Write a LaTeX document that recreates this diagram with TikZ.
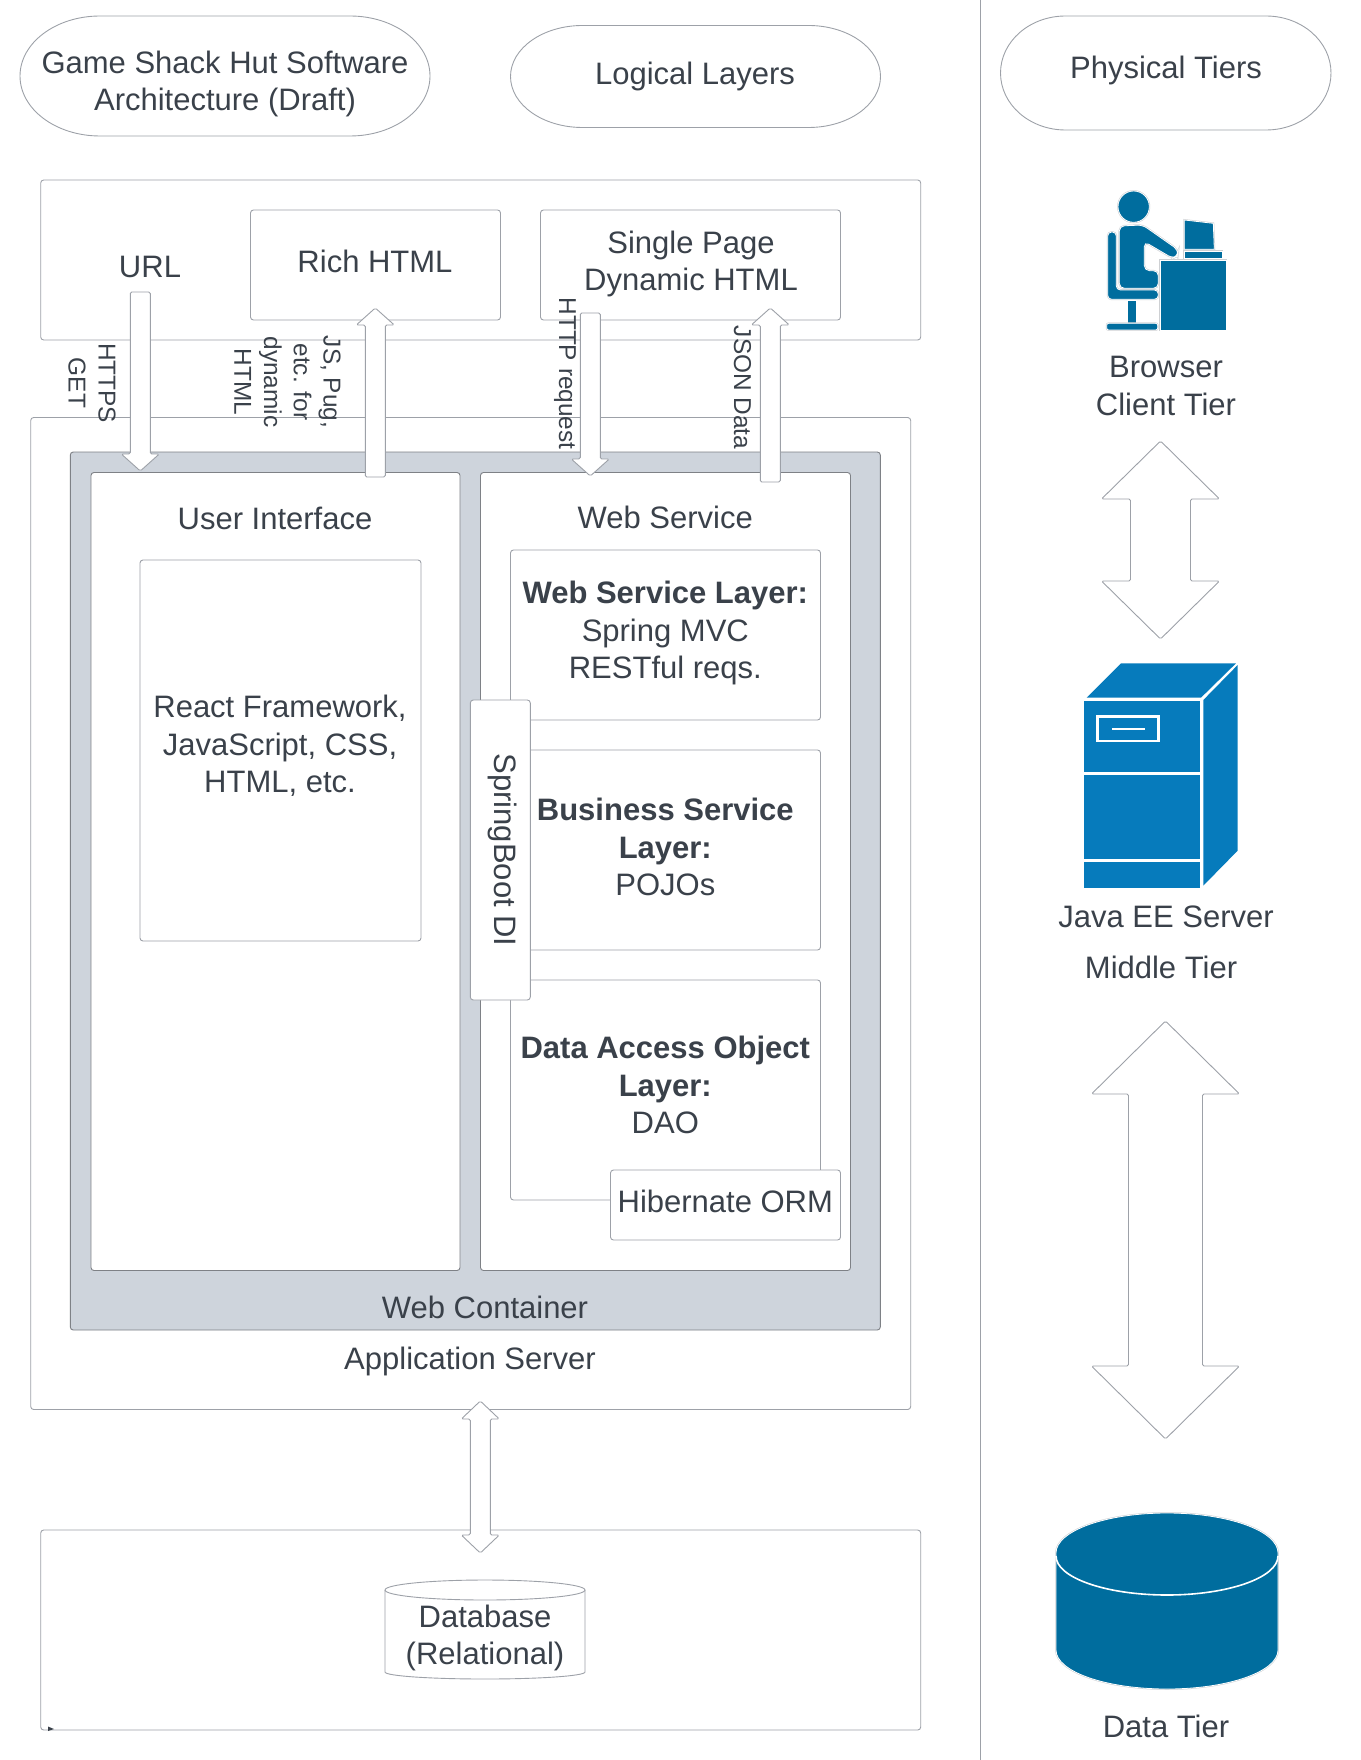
\documentclass[tikz,border=0pt]{standalone}
\usepackage{fontspec}
\setmainfont{Liberation Sans}
\usepackage{xcolor}
\usetikzlibrary{calc}

\definecolor{inkText}{HTML}{3A414A}
\definecolor{edgeGrey}{HTML}{9DA1A8}
\definecolor{containerGrey}{HTML}{CED4DC}
\definecolor{iconDark}{HTML}{006D9E}
\definecolor{iconBlue}{HTML}{067BBC}

\tikzset{
	boxed/.style={draw=edgeGrey,line width=0.9pt,fill=white,rounded corners=3pt,inner sep=0pt,outer sep=0pt},
	oval/.style n args={2}{draw=edgeGrey,line width=0.9pt,to path={
		let \p1=(\tikztostart),\p2=(\tikztotarget) in
		(\x1+#1,\y1) -- (\x2-#1,\y1) arc[start angle=90,end angle=0,x radius=#1,y radius=#2]
		-- (\x2,\y2+#2) arc[start angle=0,end angle=-90,x radius=#1,y radius=#2]
		-- (\x1+#1,\y2) arc[start angle=-90,end angle=-180,x radius=#1,y radius=#2]
		-- (\x1,\y1-#2) arc[start angle=180,end angle=90,x radius=#1,y radius=#2] -- cycle}},
	txt/.style={text=inkText,align=center,inner sep=0pt,font=\fontsize{31}{37.4}\selectfont},
	sidetxt/.style={text=inkText,align=center,inner sep=0pt,rotate=-90,font=\fontsize{24.4}{29.8}\selectfont},
	blockline/.style={draw=edgeGrey,line width=0.9pt,fill=white,rounded corners=1.5pt},
	blockhead/.style n args={3}{blockline,to path={
		let \p1=(\tikztostart),\p2=(\tikztotarget),\n1={(\y2>\y1?1:-1)*#3} in
		(\x1-#1,\y1) -- (\x1-#1,\y2-\n1) -- (\x1-#2,\y2-\n1) -- (\x2,\y2) -- (\x1+#2,\y2-\n1) -- (\x1+#1,\y2-\n1) -- (\x1+#1,\y1) -- cycle}},
	blockboth/.style n args={3}{blockline,to path={
		let \p1=(\tikztostart),\p2=(\tikztotarget),\n1={(\y2>\y1?1:-1)*#3} in
		(\x1,\y1) -- (\x1-#2,\y1+\n1) -- (\x1-#1,\y1+\n1) -- (\x1-#1,\y2-\n1) -- (\x1-#2,\y2-\n1) -- (\x2,\y2) -- (\x1+#2,\y2-\n1) -- (\x1+#1,\y2-\n1) -- (\x1+#1,\y1+\n1) -- (\x1+#2,\y1+\n1) -- cycle}},
	iconpart/.style={fill=iconDark,draw=white,line width=0.8pt,preaction={draw=edgeGrey!50,line width=1.8pt}},
}

\begin{document}
\begin{tikzpicture}[x=1pt,y=-1pt]
	\useasboundingbox (0,0) rectangle (1360,1760);

	\draw[edgeGrey,line width=0.9pt] (980,0) -- (980,1760);

	% headings
	\draw[oval={80pt}{60pt}] (20,16) to (430,136);
	\node[txt] (gameText) at (225,84) {Game Shack Hut Software\\Architecture (Draft)};
	\draw[oval={72pt}{51pt}] (510.5,25.5) to (880.5,127.5);
	\node[txt] (logicalText) at (695,76) {Logical Layers};
	\draw[oval={65pt}{57pt}] (1000.5,16) to (1331,130);
	\node[txt] (physicalText) at (1166,70) {Physical Tiers};

	% client
	\node[boxed,minimum width=880pt,minimum height=160pt] (clientBox) at (480.7,260) {};
	\node[txt] (urlText) at (150,267) {URL};
	\node[boxed,minimum width=250pt,minimum height=110pt] (richBox) at (375.5,265) {};
	\node[txt] (richText) at (375,261) {Rich HTML};
	\node[boxed,minimum width=300pt,minimum height=110pt] (singleBox) at (690.5,265) {};
	\node[txt] (singleText) at (691,264) {Single Page\\Dynamic HTML};

	% application server
	\node[boxed,minimum width=880pt,minimum height=992pt] (appBox) at (470.7,913.5) {};
	\node[boxed,draw=edgeGrey!80!black,fill=containerGrey,minimum width=810pt,minimum height=878pt] (containerBox) at (475.3,891) {};
	\node[boxed,draw=edgeGrey!80!black,minimum width=369pt,minimum height=798pt] (uiBox) at (275.5,871.5) {};
	\node[boxed,draw=edgeGrey!80!black,minimum width=370pt,minimum height=798pt] (webBox) at (665.5,871.5) {};
	\node[txt] (uiText) at (275,518) {User Interface};
	\node[txt] (webText) at (665.3,517) {Web Service};
	\node[boxed,minimum width=281pt,minimum height=381pt] (reactBox) at (280.5,750.5) {};
	\node[txt] (reactText) at (280,746) {React Framework,\\JavaScript, CSS,\\HTML, etc.};
	\node[boxed,minimum width=310pt,minimum height=170pt] (wslBox) at (665.5,635) {};
	\node[txt] (wslText) at (665.3,633) {\textbf{Web Service Layer:}\\Spring MVC\\RESTful reqs.};
	\node[boxed,minimum width=310pt,minimum height=200pt] (bslBox) at (665.5,850) {};
	\node[txt] (bslText) at (665.3,847) {\textbf{Business Service}\\\textbf{Layer:}\\POJOs};
	\node[boxed,minimum width=310pt,minimum height=220pt] (daoBox) at (665.5,1090) {};
	\node[txt] (daoText) at (665.3,1085) {\textbf{Data Access Object}\\\textbf{Layer:}\\DAO};
	\node[boxed,minimum width=230pt,minimum height=70pt] (ormBox) at (725.5,1205) {};
	\node[txt] (ormText) at (725.3,1201) {Hibernate ORM};
	\node[boxed,minimum width=60pt,minimum height=300pt] (diBox) at (500.3,850) {};
	\node[txt,rotate=-90] (diText) at (503,850) {SpringBoot DI};
	\node[txt] (containerText) at (485,1307) {Web Container};
	\node[txt] (appText) at (470,1361) {Application Server};

	% database
	\node[boxed,minimum width=880pt,minimum height=200pt] (dbBox) at (480.7,1630) {};
	\fill[inkText] (48,1726.5) -- (54,1729) -- (48,1731) -- cycle;
	\draw[edgeGrey,line width=0.9pt,fill=white] (385,1590) arc[start angle=180,end angle=0,x radius=100,y radius=-10] -- (585,1672) arc[start angle=0,end angle=-180,x radius=100,y radius=-7] -- cycle;
	\draw[edgeGrey,line width=0.9pt] (385,1590) arc[start angle=180,end angle=360,x radius=100,y radius=-10];
	\node[txt] (dbText) at (485,1638) {Database\\(Relational)};

	% arrows between the boxes
	\coordinate (getTop) at (140.3,292);
	\coordinate (getTip) at (140.3,471);
	\coordinate (richFoot) at (375.3,477);
	\coordinate (richTip) at (375.3,308);
	\coordinate (reqTop) at (590.3,313);
	\coordinate (reqTip) at (590.3,476);
	\coordinate (jsonFoot) at (770.3,482);
	\coordinate (jsonTip) at (770.3,308);
	\coordinate (appEnd) at (480.3,1401);
	\coordinate (dbEnd) at (480.3,1553);
	\draw[blockhead={10pt}{19pt}{17pt}] (getTop) to (getTip);
	\draw[blockhead={10pt}{19pt}{17pt}] (richFoot) to (richTip);
	\draw[blockhead={10pt}{19pt}{17pt}] (reqTop) to (reqTip);
	\draw[blockhead={10pt}{19pt}{17pt}] (jsonFoot) to (jsonTip);
	\draw[blockboth={10pt}{19pt}{18pt}] (appEnd) to (dbEnd);

	\node[sidetxt] (getText) at (92,383) {HTTPS\\GET};
	\node[sidetxt] (jsText) at (287.5,382) {JS, Pug,\\etc. for\\dynamic\\HTML};
	\node[sidetxt] (reqText) at (565,373.5) {HTTP request};
	\node[sidetxt] (jsonText) at (742.5,387.5) {JSON Data};

	% physical tiers
	\begin{scope}[shift={(1041,170)},x=0.3333pt,y=-0.3333pt]
		\draw[iconpart,rounded corners=4pt] (200,186) -- (226,186) -- (226,360) -- (352,360) -- (352,388) -- (200,388) -- cycle;
		\draw[iconpart] (260,392) rectangle (285,460);
		\draw[iconpart,rounded corners=2pt] (197,460) rectangle (350,480);
		\draw[iconpart] (278,110) circle[radius=47];
		\draw[iconpart,rounded corners=5pt] (235,168) -- (305,165) -- (412,240) -- (410,258) -- (395,265) -- (310,215) -- (310,302) -- (352,302) -- (352,355) -- (235,355) -- cycle;
		\draw[iconpart] (357,270) rectangle (556,480);
		\draw[iconpart] (430,150) -- (517,160) -- (520,238) -- (430,238) -- cycle;
		\draw[iconpart] (430,243) rectangle (544,265);
	\end{scope}
	\node[txt] (browserText) at (1166,386) {Browser\\Client Tier};

	\coordinate (clientEnd) at (1160.5,441);
	\coordinate (middleEnd) at (1160.5,639);
	\draw[blockboth={30pt}{59pt}{58pt}] (clientEnd) to (middleEnd);

	\begin{scope}[shift={(1041,640)},x=0.3333pt,y=-0.3333pt]
		\fill[iconBlue] (130,183) rectangle (478,745);
		\fill[iconBlue] (137,173) -- (240,70) -- (585,70) -- (480,173) -- cycle;
		\fill[iconBlue] (487,180) -- (590,75) -- (590,632) -- (487,737) -- cycle;
		\draw[white,line width=2.6pt] (130,401) -- (478,401);
		\draw[white,line width=2.6pt] (130,662) -- (478,662);
		\draw[white,line width=2.6pt] (170,230) rectangle (352,303);
		\draw[white,line width=2.6pt] (213,267) -- (313,267);
	\end{scope}
	\node[txt] (javaText) at (1166,917) {Java EE Server};
	\node[txt] (middleText) at (1161,967) {Middle Tier};

	\coordinate (middleLow) at (1165.5,1021);
	\coordinate (dataEnd) at (1165.5,1439);
	\draw[blockboth={37pt}{74pt}{73pt}] (middleLow) to (dataEnd);

	\draw[iconpart] (1056,1553) arc[start angle=180,end angle=0,x radius=111,y radius=-40] -- (1278,1650) arc[start angle=0,end angle=-180,x radius=111,y radius=-39] -- cycle;
	\draw[white,line width=1.6pt] (1056,1556) arc[start angle=180,end angle=360,x radius=111,y radius=-39];
	\node[txt] (dataText) at (1166,1726) {Data Tier};
\end{tikzpicture}
\end{document}
